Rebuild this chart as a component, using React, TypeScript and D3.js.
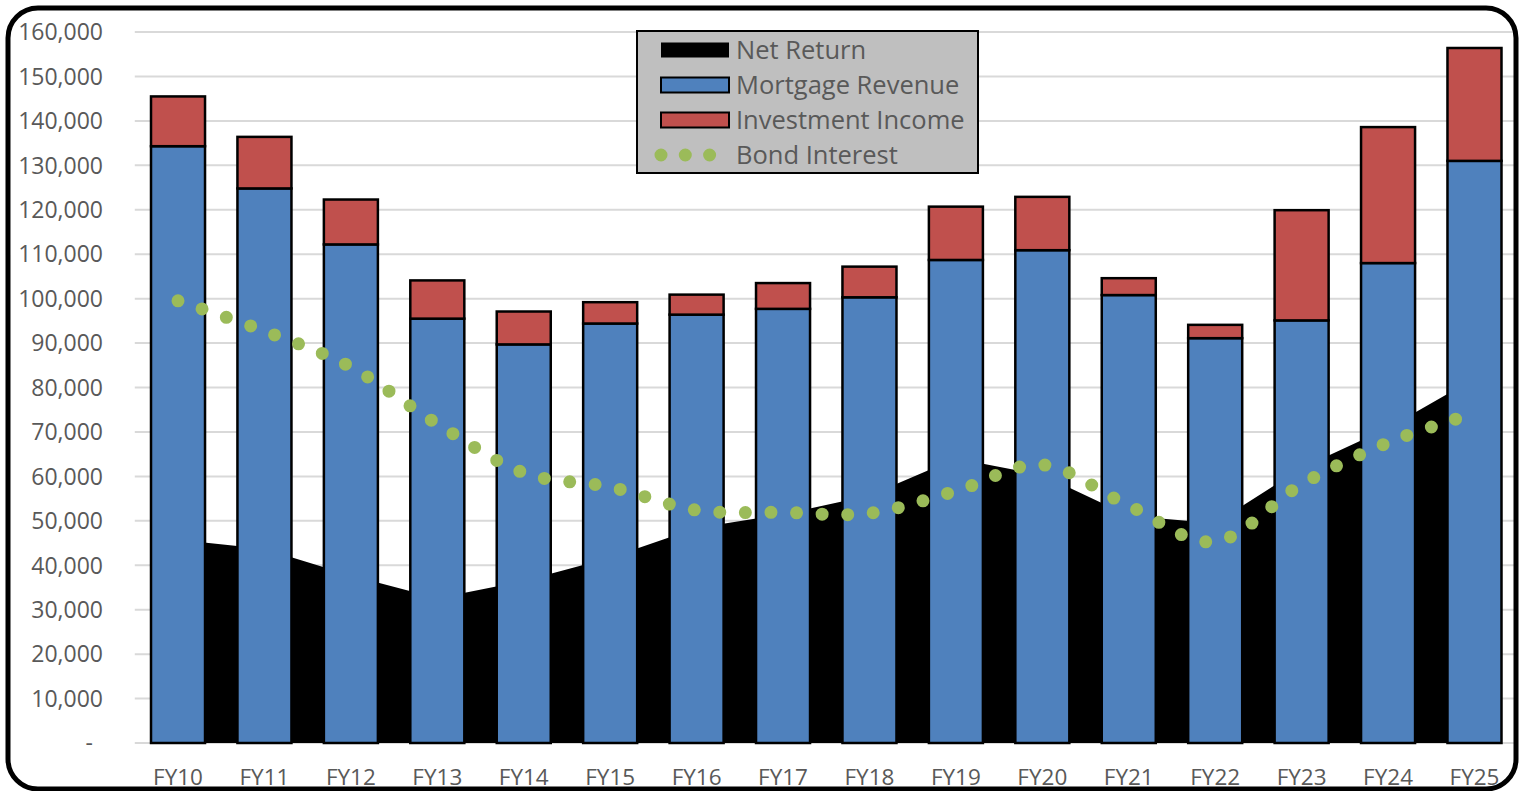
import React from "react";
import * as d3 from "d3";

// Fiscal years on the category axis
const categories = ["FY10", "FY11", "FY12", "FY13", "FY14", "FY15", "FY16", "FY17", "FY18", "FY19", "FY20", "FY21", "FY22", "FY23", "FY24", "FY25"];

// Stacked bar series
const mortgageRevenue = [134300, 124800, 112200, 95500, 89700, 94400, 96400, 97700, 100300, 108700, 110900, 100800, 91100, 95100, 108000, 131000];
const investmentIncome = [11200, 11600, 10100, 8600, 7400, 4800, 4500, 5800, 6900, 12000, 12000, 3800, 3000, 24800, 30600, 25400];

// Area series behind the bars
const netReturn = [45750, 43650, 37700, 32550, 36450, 41700, 48400, 51450, 55700, 64000, 60300, 51150, 49450, 61900, 70900, 82000];

// Smoothed dotted line
const bondInterest = [99500, 92700, 84600, 71800, 60800, 57600, 52400, 51900, 51700, 56700, 62600, 53400, 45300, 58200, 67600, 74200];

const yTicks = [0, 10000, 20000, 30000, 40000, 50000, 60000, 70000, 80000, 90000, 100000, 110000, 120000, 130000, 140000, 150000, 160000];

const legendItems = ["Net Return", "Mortgage Revenue", "Investment Income", "Bond Interest"];

const W = 1530;
const H = 791;
const FONT = "'Open Sans', 'DejaVu Sans', sans-serif";
const TEXT = "#595959";
const BLUE = "#4F81BD";
const RED = "#C0504D";
const GREEN = "#9BBB59";

export default function App() {
  const plotLeft = 134.8;
  const plotRight = 1517.7;
  const plotTop = 32;
  const plotBottom = 743;

  const x = d3
    .scaleBand<string>()
    .domain(categories)
    .range([plotLeft, plotRight])
    .paddingInner(0.375)
    .paddingOuter(0.1875);
  const y = d3.scaleLinear().domain([0, 160000]).range([plotBottom, plotTop]);
  const cx = (i: number) => (x(categories[i]) as number) + x.bandwidth() / 2;

  const area = d3
    .area<number>()
    .x((_, i) => cx(i))
    .y0(y(0))
    .y1((d) => y(d))
    .curve(d3.curveLinear);

  const line = d3
    .line<number>()
    .x((_, i) => cx(i))
    .y((d) => y(d))
    .curve(d3.curveCardinal.tension(0));

  const fmt = d3.format(",");

  return (
    <svg
      width={W}
      height={H}
      style={{ position: "absolute", left: 0, top: 0, display: "block", background: "#fff" }}
      fontFamily={FONT}
    >
      <defs>
        <clipPath id="frame">
          <rect x={8} y={8} width={1508} height={781} rx={30} ry={30} />
        </clipPath>
      </defs>

      <g clipPath="url(#frame)">
        {/* horizontal gridlines */}
        {yTicks.map((t) => (
          <line key={t} x1={plotLeft} x2={1515} y1={y(t)} y2={y(t)} stroke="#d9d9d9" strokeWidth={2} />
        ))}

        {/* net return area */}
        <path d={area(netReturn) || ""} fill="#000" />

        {/* stacked bars */}
        {categories.map((c, i) => {
          const bx = x(c) as number;
          const bw = x.bandwidth();
          const m = mortgageRevenue[i];
          const top = m + investmentIncome[i];
          return (
            <g key={c}>
              <rect x={bx} y={y(m)} width={bw} height={y(0) - y(m)} fill={BLUE} stroke="#000" strokeWidth={2.5} />
              <rect x={bx} y={y(top)} width={bw} height={y(m) - y(top)} fill={RED} stroke="#000" strokeWidth={2.5} />
            </g>
          );
        })}

        {/* bond interest dotted line */}
        <path
          d={line(bondInterest) || ""}
          fill="none"
          stroke={GREEN}
          strokeWidth={13}
          strokeLinecap="round"
          strokeDasharray="0 25.6"
        />
      </g>

      {/* y axis labels */}
      {yTicks.map((t) => (
        <text
          key={t}
          x={t === 0 ? 93 : 103}
          y={y(t)}
          dy="0.36em"
          textAnchor="end"
          fontSize={23}
          fill={TEXT}
        >
          {t === 0 ? "-" : fmt(t)}
        </text>
      ))}

      {/* x axis labels */}
      {categories.map((c, i) => (
        <text key={c} x={cx(i)} y={785} textAnchor="middle" fontSize={22.5} fill={TEXT}>
          {c}
        </text>
      ))}

      {/* legend */}
      <g>
        <rect x={637} y={31} width={341} height={142} fill="#BFBFBF" stroke="#000" strokeWidth={2} />
        {legendItems.map((name, i) => {
          const rowY = 50 + i * 35;
          let swatch: React.ReactNode = null;
          if (i === 0) swatch = <rect x={661} y={rowY - 7.5} width={68} height={15} fill="#000" />;
          if (i === 1) swatch = <rect x={661} y={rowY - 7.5} width={68} height={15} fill={BLUE} stroke="#000" strokeWidth={2} />;
          if (i === 2) swatch = <rect x={661} y={rowY - 7.5} width={68} height={15} fill={RED} stroke="#000" strokeWidth={2} />;
          if (i === 3)
            swatch = (
              <line x1={661} x2={710} y1={rowY} y2={rowY} stroke={GREEN} strokeWidth={13} strokeLinecap="round" strokeDasharray="0 24.3" />
            );
          return (
            <g key={name}>
              {swatch}
              <text x={736} y={rowY + 9} fontSize={25.5} fill={TEXT}>
                {name}
              </text>
            </g>
          );
        })}
      </g>

      {/* outer rounded frame */}
      <rect x={8} y={8} width={1508} height={781} rx={30} ry={30} fill="none" stroke="#000" strokeWidth={5} />
    </svg>
  );
}
